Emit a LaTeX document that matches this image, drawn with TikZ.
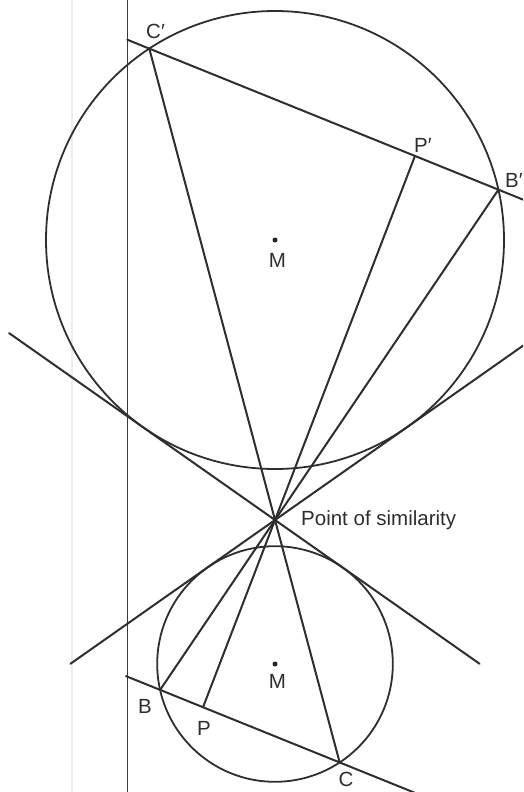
\documentclass[tikz,border=0pt]{standalone}
\usepackage{fontspec}
\setmainfont{Liberation Sans}
\usetikzlibrary{calc}
\begin{document}
\begin{tikzpicture}[x=1pt,y=-1pt,
  geo/.style={line width=2pt, draw=black!82, line cap=round},
  circ/.style={line width=1.8pt, draw=black!82},
  lbl/.style={font=\fontsize{20.5}{24}\selectfont, inner sep=0pt, text=black!82},
  dotm/.style={circle, fill=black!85, inner sep=0pt, minimum size=5pt}]
\useasboundingbox (0,0) rectangle (523,792);
\clip (0,0) rectangle (523,792);
% faint fold line
\draw[line width=2pt, draw=black!7] (72,0) -- (72,792);
% key points
\coordinate (M1) at (275,240);
\coordinate (M2) at (275,664);
\coordinate (S) at (275,520);
\coordinate (Vtop) at (127.5,0);
\coordinate (Vbot) at (127.5,792);
\coordinate (Cp) at ($(M1)+(236.7:229)$);
\coordinate (Bp) at ($(M1)+(-12.7:229)$);
\coordinate (Pp) at ($(Cp)!0.761!(Bp)$);
\coordinate (B) at ($(S)!-0.5143!(Bp)$);
\coordinate (C) at ($(S)!-0.5143!(Cp)$);
\coordinate (P) at ($(S)!-0.5143!(Pp)$);
\coordinate (T1a) at ($(S)+(215.1:325)$);
\coordinate (T1b) at ($(S)+(35.1:250)$);
\coordinate (T2a) at ($(S)+(-35.1:310)$);
\coordinate (T2b) at ($(S)+(144.9:250)$);
\coordinate (Ea) at ($(Cp)!-0.063!(Bp)$);
\coordinate (Eb) at ($(Bp)!-0.08!(Cp)$);
\coordinate (Fa) at ($(B)!-0.19!(C)$);
\coordinate (Fb) at ($(C)!-0.5!(B)$);
% circles
\draw[circ] (M1) circle[radius=229pt];
\draw[circ] (M2) circle[radius=117.8pt];
% vertical line
\draw[line width=1.8pt, draw=black!78] (Vtop) -- (Vbot);
% common tangents
\draw[geo] (T1a) -- (T1b);
\draw[geo] (T2a) -- (T2b);
% chords
\draw[geo] (Ea) -- (Eb);
\draw[geo] (Fa) -- (Fb);
% rays through the point of similarity
\draw[geo] (Cp) -- (C);
\draw[geo] (Pp) -- (P);
\draw[geo] (Bp) -- (B);
% centres
\node[dotm] (dM1) at (M1) {};
\node[dotm] (dM2) at (M2) {};
% labels
\node[lbl, anchor=base west] (lCp) at (146,38) {C′};
\node[lbl, anchor=base west] (lPp) at (414,152) {P′};
\node[lbl, anchor=base west] (lBp) at (505,187) {B′};
\node[lbl, anchor=base] (lM1) at (277.5,267) {M};
\node[lbl, anchor=base] (lM2) at (277.5,688) {M};
\node[lbl, anchor=base] (lB) at (145,713) {B};
\node[lbl, anchor=base] (lP) at (204,735) {P};
\node[lbl, anchor=base] (lC) at (346,786) {C};
\node[lbl, anchor=base west] (lS) at (301,525) {Point of similarity};
\end{tikzpicture}
\end{document}
